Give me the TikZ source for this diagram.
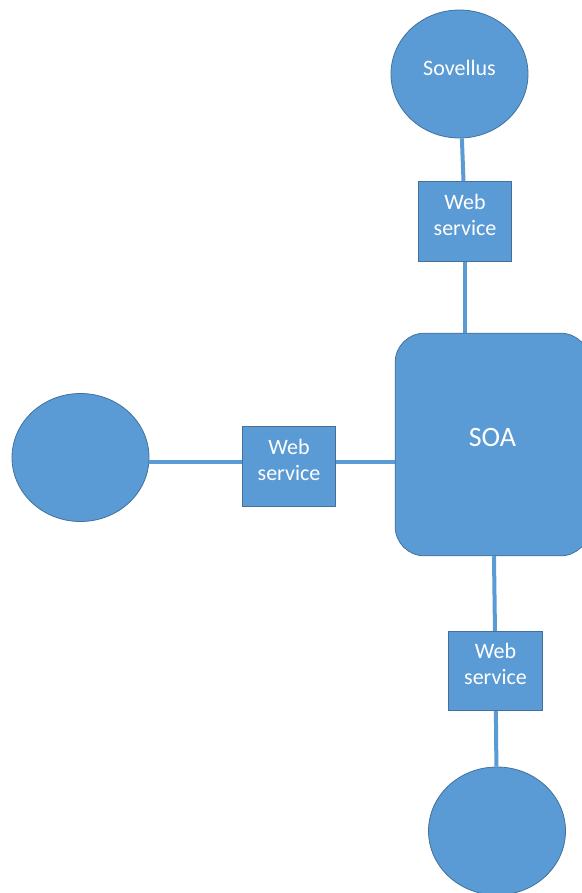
\documentclass[tikz,border=0pt]{standalone}
\usepackage{fontspec}
\setmainfont{Carlito}
\usepackage{xcolor}
\usepackage{tikz}
\usetikzlibrary{shapes}
\usetikzlibrary{positioning}
\definecolor{officeblue}{HTML}{5B9BD5}
\definecolor{officeedge}{HTML}{41719C}

\begin{document}
\begin{tikzpicture}[x=0.75pt,y=-0.75pt,
  app/.style={ellipse,draw=officeedge,fill=officeblue,line width=0.6pt,
    minimum width=102.75pt,minimum height=96pt,inner sep=0pt},
  svc/.style={rectangle,draw=officeedge,fill=officeblue,line width=0.6pt,
    minimum width=70pt,minimum height=59.5pt,inner sep=0pt,align=center,
    text depth=10pt,font=\fontsize{16.5}{20.5}\selectfont},
  hub/.style={rectangle,rounded corners=22pt,draw=officeedge,fill=officeblue,
    line width=0.6pt,minimum width=146pt,minimum height=167pt,inner sep=0pt,
    text depth=10.5pt,font=\fontsize{21}{25}\selectfont},
  link/.style={draw=officeblue,line width=3pt},
  text=white]
  \useasboundingbox (0,0) rectangle (582,893);

  \node[app,text depth=9pt,font=\fontsize{16.5}{20}\selectfont] (sovellus) at (459.5,74) {Sovellus};
  \node[svc] (ws1) at (465,221.5) {Web\\[-1pt]service};
  \node[hub] (soa) at (492.5,444.5) {SOA};
  \node[app] (vasen) at (80.5,457.5) {};
  \node[svc] (ws3) at (289,466.5) {Web\\[-1pt]service};
  \node[svc] (ws2) at (495.5,671) {Web\\[-1pt]service};
  \node[app] (ala) at (497,831) {};
  \coordinate (vaaka) at (289,462);

  \draw[link] (sovellus) -- (ws1);
  \draw[link] (ws1) -- (ws1 |- soa.north);
  \draw[link] (vasen.east |- vaaka) -- (ws3.west |- vaaka);
  \draw[link] (ws3.east |- vaaka) -- (soa.west |- vaaka);
  \draw[link] (soa) -- (ws2);
  \draw[link] (ws2) -- (ala);

\end{tikzpicture}
\end{document}
